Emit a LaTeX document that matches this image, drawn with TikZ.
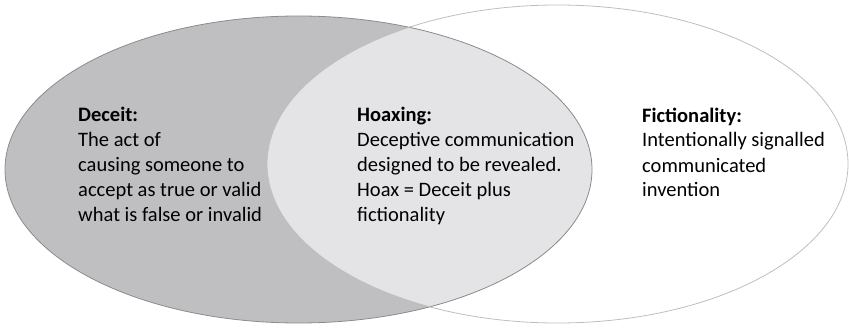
\documentclass[tikz,border=0pt]{standalone}
\usepackage{fontspec}
\setmainfont{Carlito}
\definecolor{deceitfill}{RGB}{191,191,193}
\definecolor{overlapfill}{RGB}{228,228,230}
\definecolor{darkedge}{RGB}{140,140,142}
\definecolor{lightedge}{RGB}{190,190,192}
\tikzset{
  label/.style={anchor=base west, align=left, inner sep=0pt, font=\fontsize{20.5}{25}\selectfont},
}
\begin{document}
\begin{tikzpicture}[x=1pt,y=1pt]
\useasboundingbox (0,0) rectangle (849,327);
% deceit set
\fill[deceitfill] (298.5,157.5) ellipse [x radius=293.5, y radius=153.5];
% overlap region
\begin{scope}
  \clip (298.5,157.5) ellipse [x radius=293.5, y radius=153.5];
  \fill[overlapfill] (557.5,163) ellipse [x radius=290.5, y radius=159];
\end{scope}
% outlines
\draw[darkedge, line width=0.8pt] (298.5,157.5) ellipse [x radius=293.5, y radius=153.5];
\draw[lightedge, line width=0.8pt] (557.5,163) ellipse [x radius=290.5, y radius=159];
% texts (anchored at the baseline of the last line)
\node[label] (deceit) at (78,106) {\textbf{Deceit:}\\The act of\\causing someone to\\accept as true or valid\\what is false or invalid};
\node[label] (hoax) at (357,106) {\textbf{Hoaxing:}\\Deceptive communication\\designed to be revealed.\\Hoax = Deceit plus\\fictionality};
\node[label] (fiction) at (642,130) {\textbf{Fictionality:}\\Intentionally signalled\\communicated\\invention};
\end{tikzpicture}
\end{document}
